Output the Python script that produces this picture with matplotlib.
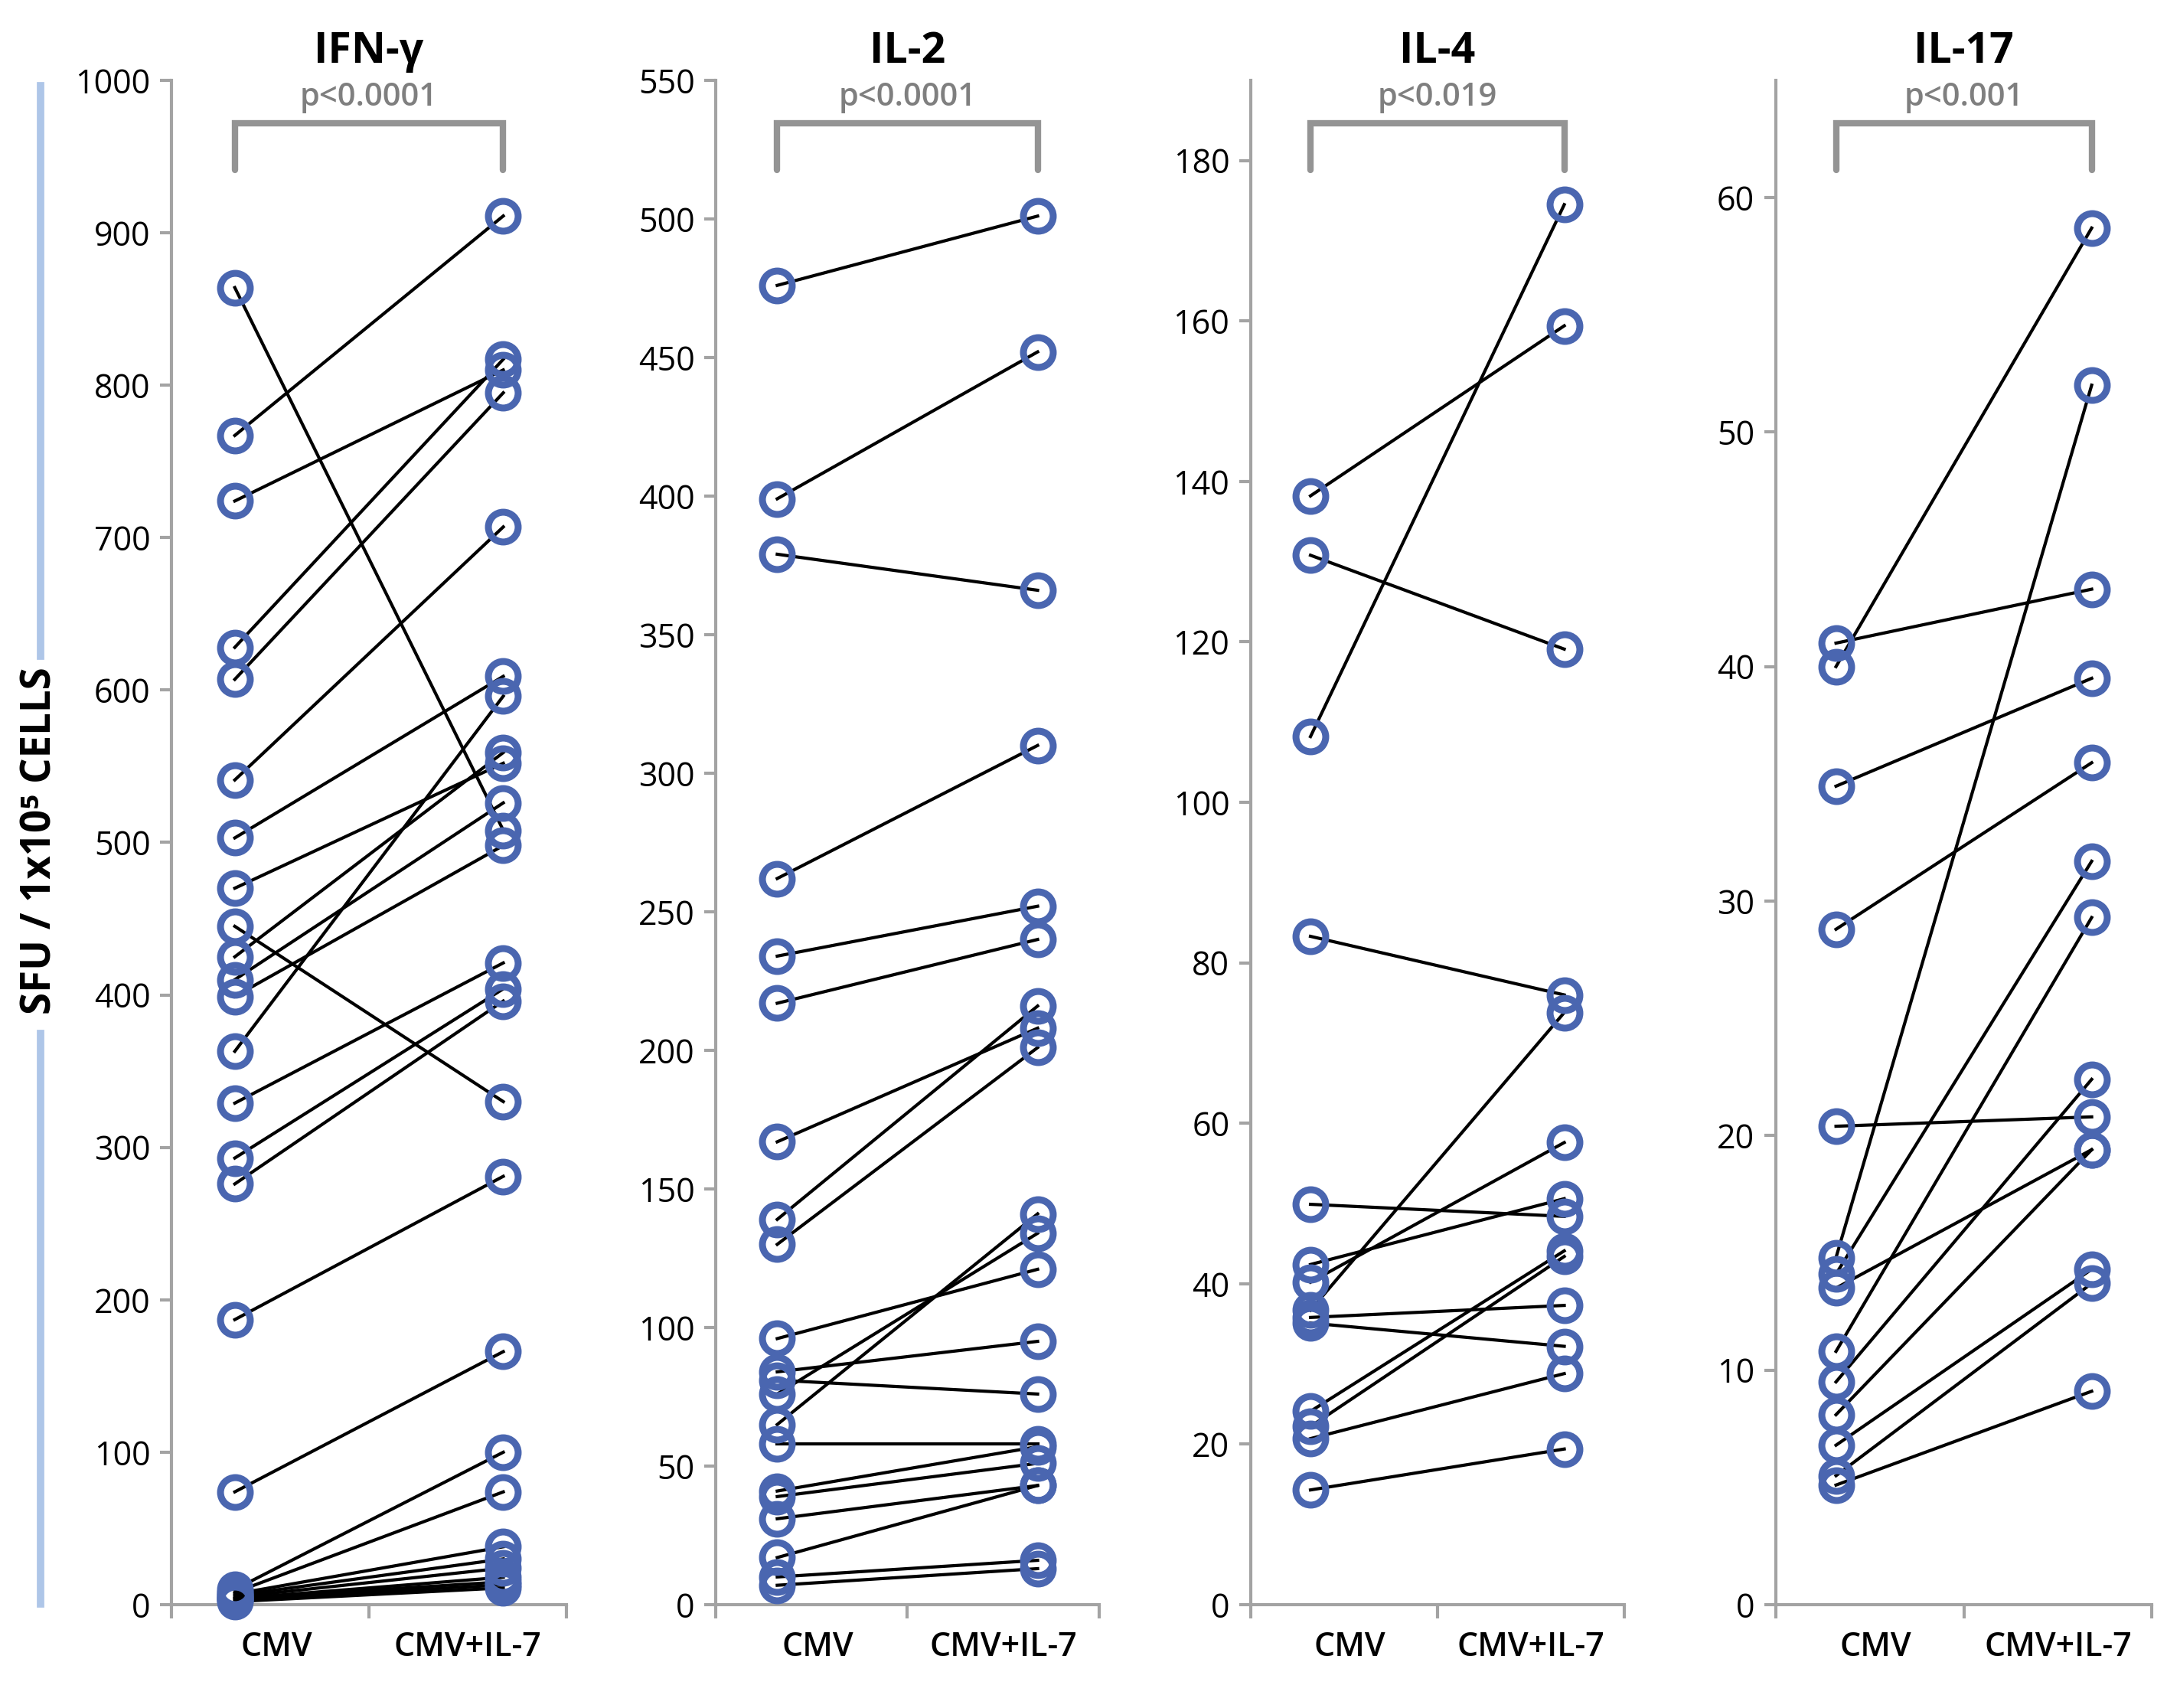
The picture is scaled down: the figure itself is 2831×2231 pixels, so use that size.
import numpy as np
import matplotlib
matplotlib.use('Agg')
import matplotlib.pyplot as plt
from matplotlib.lines import Line2D

# valores (pares CMV -> CMV+IL-7)
ifn_cmv = [864, 767, 724, 628, 607, 541, 503, 470, 445, 425, 410, 399, 363, 329, 293, 276, 187, 74,
           10, 8, 7, 6, 5, 4, 4, 3, 2]
ifn_il7 = [508, 911, 810, 817, 795, 707, 609, 552, 330, 559, 526, 498, 596, 421, 404, 396, 281, 166,
           100, 74, 38, 30, 24, 18, 15, 13, 11]

il2_cmv = [476, 399, 379, 262, 234, 217, 167, 139, 130, 96, 84, 81, 76, 65, 58, 41, 39, 31, 17, 10, 7]
il2_il7 = [501, 452, 366, 310, 252, 240, 208, 216, 201, 121, 95, 76, 134, 141, 58, 57, 51, 43, 43, 16, 13]

il4_cmv = [138.2, 130.8, 108.2, 83.3, 49.9, 42.4, 40.2, 36.7, 35.8, 35.1, 24.1, 22.2, 20.7, 14.3]
il4_il7 = [159.4, 119.1, 174.5, 76.0, 48.4, 50.6, 57.6, 73.8, 37.3, 32.2, 44.1, 43.4, 28.8, 19.4]

il17_cmv = [41.0, 40.0, 34.9, 28.8, 20.4, 14.8, 14.1, 13.5, 10.8, 9.5, 8.1, 6.8, 5.5, 5.1]
il17_il7 = [43.3, 58.7, 39.5, 35.9, 20.8, 52.0, 31.7, 19.4, 29.3, 22.4, 19.4, 14.3, 13.7, 9.1]

titulos = ['IFN-γ', 'IL-2', 'IL-4', 'IL-17']
p_valores = ['p<0.0001', 'p<0.0001', 'p<0.019', 'p<0.001']
categorias = ['CMV', 'CMV+IL-7']

paineis = [
    (ifn_cmv, ifn_il7, 1000, np.arange(0, 1001, 100)),
    (il2_cmv, il2_il7, 550, np.arange(0, 551, 50)),
    (il4_cmv, il4_il7, 190, np.arange(0, 181, 20)),
    (il17_cmv, il17_il7, 65, np.arange(0, 61, 10)),
]

# posição dos eixos na figura (left, width)
posicoes = [(0.0792, 0.1822), (0.3304, 0.1767), (0.5772, 0.1722), (0.8195, 0.1735)]

plt.rcParams['font.family'] = ['Open Sans', 'DejaVu Sans']

AZUL = '#4a66b0'
CINZA = '#a3a3a3'
X_CMV, X_IL7 = 0.32, 1.68

fig = plt.figure(figsize=(28.31, 22.31), dpi=100)

for (cmv, il7, ymax, yticks), (left, width), titulo, pval in zip(paineis, posicoes, titulos, p_valores):
    ax = fig.add_axes([left, 0.0605, width, 0.8925])
    ax.set_xlim(0, 2)
    ax.set_ylim(0, ymax)

    for a, b in zip(cmv, il7):
        ax.plot([X_CMV, X_IL7], [a, b], color='black', lw=3, zorder=2, clip_on=False)
    ax.plot([X_CMV] * len(cmv), cmv, 'o', mfc='none', mec=AZUL, ms=28, mew=6.5, zorder=3, clip_on=False)
    ax.plot([X_IL7] * len(il7), il7, 'o', mfc='none', mec=AZUL, ms=28, mew=6.5, zorder=3, clip_on=False)

    # eixos estilo Excel
    for lado in ['top', 'right']:
        ax.spines[lado].set_visible(False)
    for lado in ['left', 'bottom']:
        ax.spines[lado].set_color(CINZA)
        ax.spines[lado].set_linewidth(3)
    ax.set_yticks(yticks)
    ax.set_yticklabels([str(v) for v in yticks])
    ax.tick_params(axis='y', direction='out', length=11, width=3, color=CINZA,
                   labelsize=31, pad=9)
    ax.set_xticks([0, 1, 2])
    ax.set_xticklabels([])
    ax.tick_params(axis='x', direction='out', length=13, width=3, color=CINZA)

    trans = ax.get_xaxis_transform()
    ax.text(0.53, -0.028, categorias[0], transform=trans, ha='center', va='center',
            fontsize=31, fontweight='semibold')
    ax.text(1.5, -0.028, categorias[1], transform=trans, ha='center', va='center',
            fontsize=31, fontweight='semibold')

    # colchete de significância
    ax.plot([X_CMV, X_CMV, X_IL7, X_IL7], [0.941, 0.972, 0.972, 0.941], transform=trans,
            color='#949494', lw=6, solid_capstyle='round', solid_joinstyle='miter', clip_on=False)
    ax.text(1.0, 0.989, pval, transform=trans, ha='center', va='center',
            fontsize=30, color='#7f7f7f', fontweight='semibold')
    ax.text(1.0, 1.019, titulo, transform=trans, ha='center', va='center',
            fontsize=40, fontweight='bold')

# rótulo do eixo y com a linha azul
fig.text(0.0185, 0.508, 'SFU / 1x10⁵ CELLS', rotation=90, ha='center', va='center',
         fontsize=38, fontweight='bold')
fig.add_artist(Line2D([0.0187, 0.0187], [0.95, 0.616], color='#aec6e8', lw=7))
fig.add_artist(Line2D([0.0187, 0.0187], [0.395, 0.061], color='#aec6e8', lw=7))

plt.savefig('out.png', dpi=100)
